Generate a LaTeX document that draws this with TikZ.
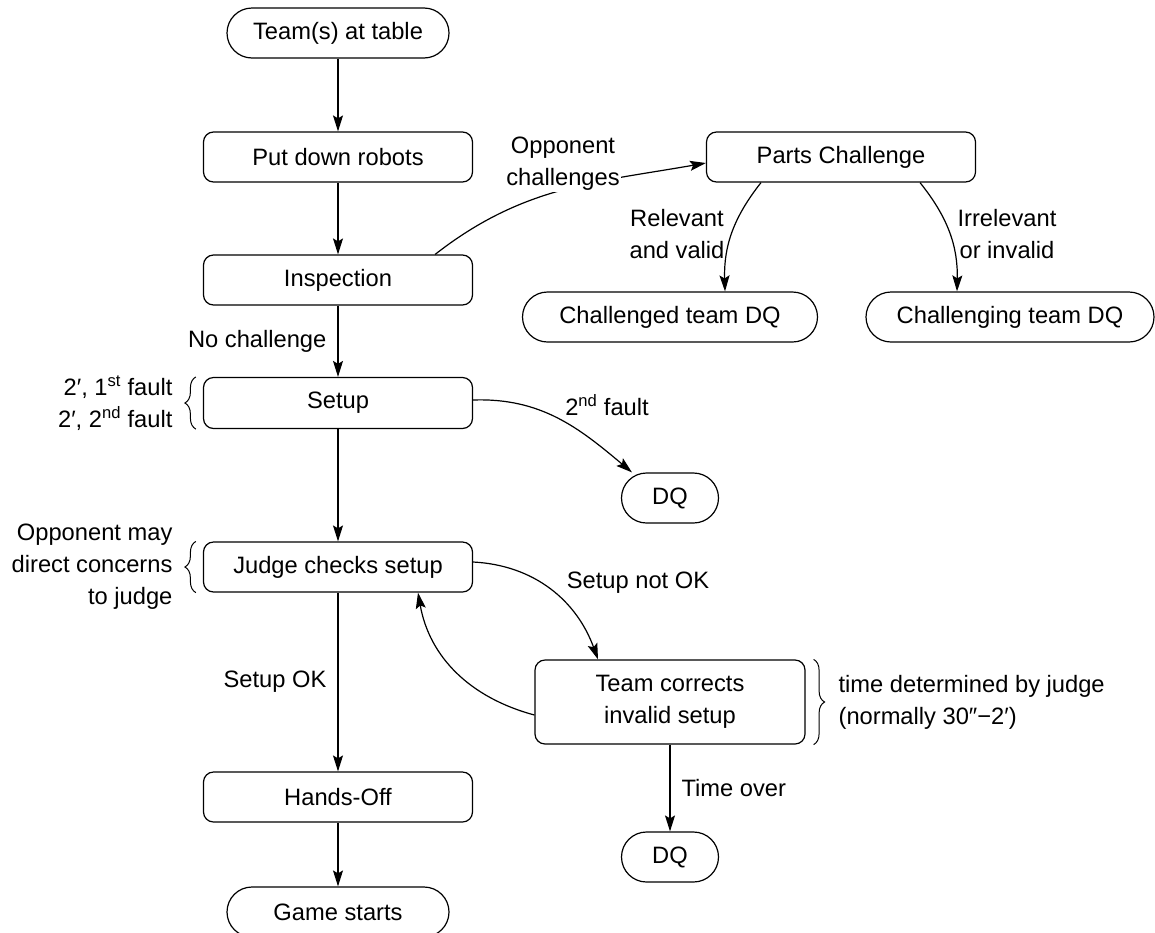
\documentclass[tikz,border=0pt]{standalone}
\usepackage{fontspec}
\setmainfont{Liberation Sans}
\usetikzlibrary{arrows.meta,decorations.pathreplacing,calc}
\begin{document}
\begin{tikzpicture}[x=1pt,y=-1pt,line width=1.2pt,
  font=\fontsize{23.7}{32}\selectfont,
  box/.style={draw, rounded corners=10pt, minimum width=269pt, minimum height=50pt, inner sep=0pt, align=center},
  pill/.style={draw, rounded corners=25pt, minimum height=50pt, inner sep=0pt},
  arr/.style={-{Stealth[length=16pt,width=10pt,inset=3pt]}},
  lbl/.style={inner sep=0pt, align=center},
  br/.style={decorate, line width=1pt, decoration={brace, amplitude=11pt}},
]
\useasboundingbox (0,0) rectangle (1155,932);

% nodes
\node[pill, minimum width=222pt] (team) at (338,33) {Team(s) at table};
\node[box] (put) at (338,157) {Put down robots};
\node[box] (insp) at (338,280) {Inspection};
\node[box] (parts) at (841,157) {Parts Challenge};
\node[pill, minimum width=295pt] (chd) at (670,317) {Challenged team DQ};
\node[pill, minimum width=288pt] (chg) at (1010,317) {Challenging team DQ};
\node[box, minimum height=51pt] (setup) at (338,403) {Setup};
\node[pill, minimum width=97pt] (dq1) at (670,498) {DQ};
\node[box] (judge) at (338,567) {Judge checks setup};
\node[box, minimum width=270pt, minimum height=84pt] (fix) at (670,702) {Team corrects\\invalid setup};
\node[pill, minimum width=97pt] (dq2) at (670,857) {DQ};
\node[box] (hands) at (338,797) {Hands-Off};
\node[pill, minimum width=222pt] (game) at (338,912) {Game starts};

% straight connectors
\draw[arr] (team) -- (put);
\draw[arr] (put) -- (insp);
\draw[arr] (insp) -- node[lbl, anchor=east, xshift=-11pt] (lnoch) {No challenge} (setup);
\draw[arr] (setup) -- (judge);
\draw[arr] (judge) -- node[lbl, anchor=east, xshift=-11pt] (lok) {Setup OK} (hands);
\draw[arr] (hands) -- (game);
\draw[arr] (fix) -- node[lbl, anchor=west, xshift=11pt] (ltime) {Time over} (dq2);

% curved connectors
\draw[arr] ([xshift=-38pt]insp.north east) to[out=38, in=190] ([yshift=-6pt]parts.west);
\node[lbl, fill=white, inner sep=1pt] (lopp) at (563,164) {Opponent\\challenges};
\draw[arr] ([xshift=-80pt]parts.south) to[bend right=20] ([xshift=55pt]chd.north);
\draw[arr] ([xshift=79pt]parts.south) to[bend left=20] ([xshift=-53pt]chg.north);
\node[lbl] (lrel) at (677,234) {Relevant\\and valid};
\node[lbl] (lirr) at (1007,234) {Irrelevant\\or invalid};

\draw[arr] ([yshift=3pt]setup.east) to[out=2, in=140] ([xshift=-38pt]dq1.north);
\node[lbl] (l2nd) at (607,405) {2\textsuperscript{nd} fault};

\draw[arr] ([yshift=5pt]judge.east) to[out=-3, in=110] ([xshift=-72pt]fix.north);
\node[lbl] (lnok) at (638,583) {Setup not OK};
\draw[arr] ([yshift=-13pt]fix.west) to[out=165, in=-80] ([xshift=80pt]judge.south);

% side notes with braces
\draw[br] ([xshift=-7pt]setup.south west) -- ([xshift=-7pt]setup.north west);
\node[lbl, anchor=east, align=right] (lfault) at (173,403) {2′, 1\textsuperscript{st} fault\\2′, 2\textsuperscript{nd} fault};
\draw[br] ([xshift=-7pt]judge.south west) -- ([xshift=-7pt]judge.north west);
\node[lbl, anchor=east, align=right] (lconc) at (173,567) {Opponent may\\direct concerns\\to judge};
\draw[br] ([xshift=8pt]fix.north east) -- ([xshift=8pt]fix.south east);
\node[lbl, anchor=west, align=left] (ljudge) at (838,702) {time determined by judge\\(normally 30″−2′)};
\end{tikzpicture}
\end{document}
